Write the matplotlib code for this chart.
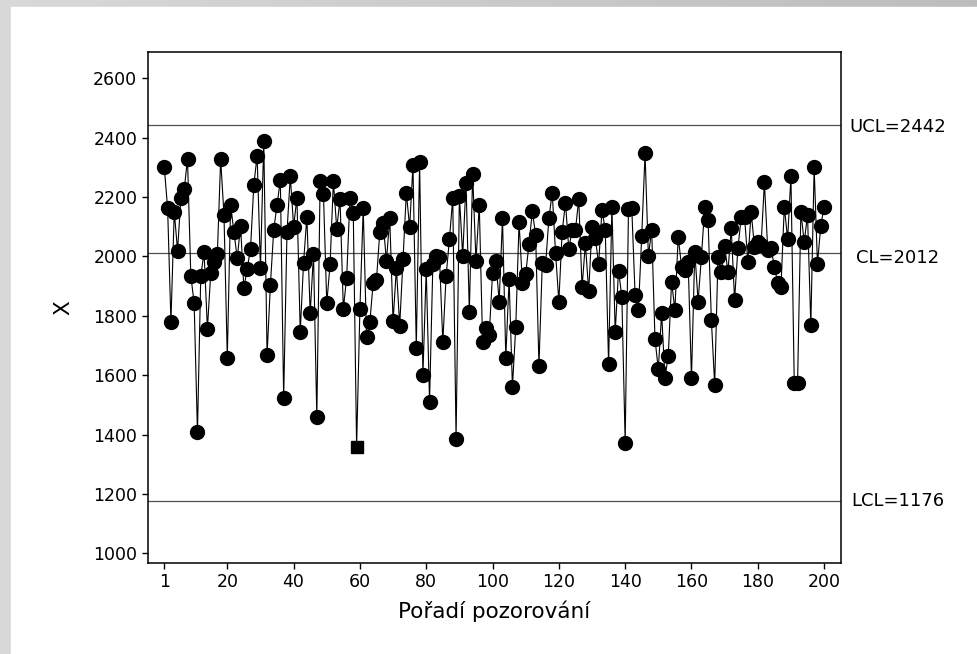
import numpy as np
import matplotlib
matplotlib.use("Agg")
import matplotlib.pyplot as plt
from matplotlib.patches import Rectangle

# Individual measurements, in order of observation
values = [
    2300, 2162, 1780, 2151, 2020, 2196, 2226, 2328, 1935, 1843,
    1408, 1935, 2014, 1756, 1943, 1983, 2007, 2328, 2140, 1659,
    2173, 2084, 1994, 2103, 1893, 1958, 2025, 2241, 2340, 1961,
    2390, 1668, 1904, 2089, 2173, 2258, 1522, 2081, 2271, 2101,
    2198, 1746, 1979, 2134, 1808, 2008, 1458, 2254, 2211, 1842,
    1974, 2254, 2094, 2193, 1824, 1929, 2196, 2145, 1359, 1824,
    2162, 1728, 1779, 1912, 1922, 2084, 2112, 1986, 2129, 1782,
    1960, 1767, 1990, 2215, 2098, 2308, 1693, 2317, 1601, 1957,
    1511, 1975, 2000, 1997, 1711, 1934, 2059, 2196, 1385, 2204,
    2002, 2249, 1814, 2278, 1985, 2173, 1713, 1758, 1735, 1943,
    1986, 1848, 2129, 1659, 1923, 1561, 1761, 2117, 1910, 1941,
    2042, 2153, 2072, 1631, 1977, 1971, 2129, 2215, 2013, 1848,
    2084, 2181, 2025, 2089, 2089, 2193, 1896, 2044, 1882, 2100,
    2061, 1975, 2157, 2089, 1637, 2168, 1745, 1952, 1865, 1373,
    2159, 2162, 1870, 1820, 2070, 2348, 2002, 2089, 1721, 1620,
    1809, 1590, 1665, 1915, 1820, 2067, 1966, 1955, 1983, 1590,
    2016, 1848, 1999, 2168, 2123, 1786, 1567, 1997, 1946, 2035,
    1949, 2095, 1853, 2027, 2132, 2134, 1983, 2151, 2033, 2050,
    2040, 2250, 2022, 2027, 1966, 1910, 1898, 2168, 2059, 2271,
    1573, 1573, 2151, 2048, 2140, 1769, 2300, 1975, 2103, 2168,
]
obs = list(range(1, len(values) + 1))
flagged = [59]  # observation drawn with a square

ucl = 2442
cl = 2012
lcl = 1176
limit_labels = ["UCL=2442", "CL=2012", "LCL=1176"]

xticks = [1, 20, 40, 60, 80, 100, 120, 140, 160, 180, 200]
yticks = [1000, 1200, 1400, 1600, 1800, 2000, 2200, 2400, 2600]

fig = plt.figure(figsize=(9.77, 6.54), dpi=100)

# window frame behind the graph
bg = fig.add_axes([0, 0, 1, 1], zorder=-10)
grad = np.linspace(0.85, 0.74, 256).reshape(1, -1)
bg.imshow(np.dstack([grad, grad, grad]), extent=[0, 1, 0, 1], aspect="auto")
bg.add_patch(Rectangle((11 / 977, 0), 1, 1 - 7 / 654, color="white"))
bg.set_xlim(0, 1)
bg.set_ylim(0, 1)
bg.axis("off")

ax = fig.add_axes([0.1512, 0.1396, 0.7096, 0.7804])

# limit lines with their labels right of the plot box
for val, lab, dy in zip([ucl, cl, lcl], limit_labels, [-1, -4, 0]):
    ax.axhline(val, color="#505050", lw=0.9, zorder=1)
    ax.annotate(lab, xy=(1, val), xycoords=("axes fraction", "data"),
                xytext=(41, dy), textcoords="offset points",
                ha="center", va="center", fontsize=13)

ax.plot(obs, values, color="black", lw=0.8, zorder=2)
normal_x = [o for o in obs if o not in flagged]
normal_y = [values[o - 1] for o in normal_x]
ax.plot(normal_x, normal_y, "o", ms=10, color="black", zorder=3)
ax.plot(flagged, [values[o - 1] for o in flagged], "s", ms=8.5,
        color="black", zorder=3)

ax.set_xlim(-4, 205.1)
ax.set_ylim(968, 2688)
ax.set_xticks(xticks)
ax.set_yticks(yticks)
ax.tick_params(labelsize=12.5, length=4, width=1, direction="out")
for s in ax.spines.values():
    s.set_linewidth(1.1)

ax.set_xlabel("Pořadí pozorování", fontsize=15.5, labelpad=7)
ax.set_ylabel("X", fontsize=15.5, labelpad=14)

fig.savefig("out.png", dpi=100)
